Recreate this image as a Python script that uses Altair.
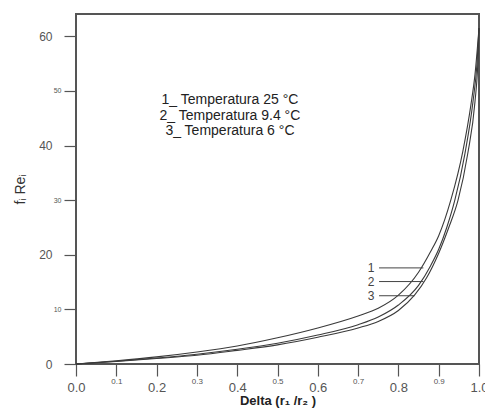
import altair as alt
import pandas as pd

# ---- data ----
x1 = [0.0, 0.1, 0.2, 0.3, 0.4, 0.5, 0.6, 0.7, 0.75, 0.8, 0.85, 0.88, 0.9, 0.93, 0.96, 0.98, 0.99, 1.0]
y1 = [0.0, 0.6, 1.3, 2.2, 3.3, 4.8, 6.6, 8.8, 10.2, 12.6, 16.8, 20.6, 23.5, 30.0, 39.0, 47.5, 53.0, 61.5]

x2 = [0.0, 0.1, 0.2, 0.3, 0.4, 0.5, 0.6, 0.7, 0.75, 0.8, 0.85, 0.88, 0.9, 0.92, 0.94, 0.965, 0.985, 0.995, 1.0]
y2 = [0.0, 0.5, 1.1, 1.8, 2.7, 3.8, 5.3, 7.2, 8.6, 10.8, 14.4, 18.0, 21.0, 25.0, 30.0, 38.5, 48.0, 55.0, 61.5]

x3 = [0.0, 0.1, 0.2, 0.3, 0.4, 0.5, 0.6, 0.7, 0.75, 0.8, 0.84, 0.87, 0.9, 0.925, 0.948, 0.972, 0.99, 0.997, 1.0]
y3 = [0.0, 0.45, 1.0, 1.6, 2.5, 3.5, 4.9, 6.6, 7.8, 9.8, 12.6, 15.8, 20.3, 25.0, 30.0, 38.5, 48.0, 55.0, 61.5]

legend_lines = ["1_ Temperatura 25 °C", "2_ Temperatura 9.4 °C", "3_ Temperatura 6 °C"]
legend_x = [0.382, 0.382, 0.382]
legend_y = [48.3, 45.5, 42.7]

curve_ids = ["1", "2", "3"]
leader_x_start = [0.752, 0.752, 0.752]
leader_x_end = [0.862, 0.862, 0.84]
leader_y = [17.6, 15.1, 12.5]
id_x = [0.732, 0.732, 0.732]

x_ticks = [round(i * 0.1, 1) for i in range(11)]
y_ticks = [0, 10, 20, 30, 40, 50, 60]

# ---- tables ----
rows = []
for sid, xs, ys in (("1", x1, y1), ("2", x2, y2), ("3", x3, y3)):
    for i, (a, b) in enumerate(zip(xs, ys)):
        rows.append({"series": sid, "order": i, "x": a, "y": b})
curves = pd.DataFrame(rows)

legend_df = pd.DataFrame({"t": legend_lines, "x": legend_x, "y": legend_y})
leader_df = pd.DataFrame({"id": curve_ids, "xs": leader_x_start, "xe": leader_x_end,
                          "y": leader_y, "xl": id_x})

FONT = "Liberation Sans"
INK = "#3a3a3a"

xscale = alt.Scale(domain=[0, 1], nice=False, zero=False)
yscale = alt.Scale(domain=[0, 64.1], nice=False)

xaxis = alt.Axis(
    title="Delta (r₁ /r₂ )", values=x_ticks, format=".1f",
    grid=False, domain=False, ticks=True, tickSize=12, tickColor="#555", tickWidth=1.2,
    labelFontSize=alt.condition("round(datum.value*10)%2==0", alt.value(13), alt.value(8)),
    labelPadding=alt.condition("round(datum.value*10)%2==0", alt.value(5), alt.value(1)),
    labelColor="#555", labelFont=FONT, labelFlush=False,
    titleFont=FONT, titleFontSize=13, titleFontWeight="bold", titleColor="#222",
    titleY=36, titleBaseline="middle",
)
yaxis = alt.Axis(
    title="fᵢ Reᵢ", values=y_ticks, format="d",
    grid=False, domain=False, ticks=True, tickSize=12, tickColor="#555", tickWidth=1.2,
    labelFontSize=alt.condition("round(datum.value/10)%2==0", alt.value(12), alt.value(7)),
    labelPadding=alt.condition("round(datum.value/10)%2==0", alt.value(12), alt.value(3)),
    labelColor="#555", labelFont=FONT, labelFlush=False,
    titleFont=FONT, titleFontSize=14, titleFontWeight="normal", titleColor="#333",
    titleX=-56, titleY=175, titleAngle=270, titleAlign="center", titleBaseline="middle",
)

lines = alt.Chart(curves).mark_line(color=INK, strokeWidth=1.1, interpolate="monotone").encode(
    x=alt.X("x:Q", scale=xscale, axis=xaxis),
    y=alt.Y("y:Q", scale=yscale, axis=yaxis),
    detail="series:N",
    order="order:Q",
)

legend_text = alt.Chart(legend_df).mark_text(
    font=FONT, fontSize=14, color="#222", align="center", baseline="middle"
).encode(x="x:Q", y="y:Q", text="t:N")

leaders = alt.Chart(leader_df).mark_rule(color="#444", strokeWidth=1).encode(
    x="xs:Q", x2="xe:Q", y="y:Q"
)
leader_labels = alt.Chart(leader_df).mark_text(
    font=FONT, fontSize=12, color="#444", align="center", baseline="middle"
).encode(x="xl:Q", y="y:Q", text="id:N")

chart = alt.layer(lines, leaders, leader_labels, legend_text).properties(
    width=403, height=350,
    autosize=alt.AutoSizeParams(type="none"),
    padding={"left": 76, "top": 14, "right": 6, "bottom": 44},
    background="white",
).configure_view(stroke="#555", strokeWidth=2)

chart.save("out.html", embed_options={"renderer": "svg", "actions": False})
